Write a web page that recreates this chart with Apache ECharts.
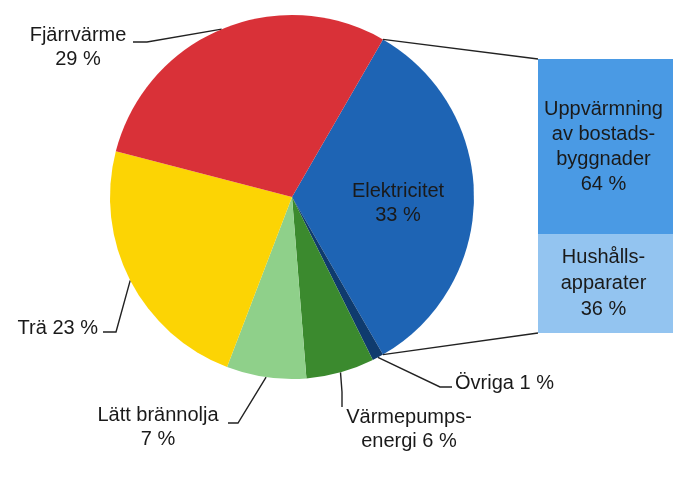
<!DOCTYPE html>
<html>
<head>
<meta charset="utf-8">
<script src="https://cdn.jsdelivr.net/npm/echarts@6/dist/echarts.min.js"></script>
<style>
html,body{margin:0;padding:0;background:#fff;}
#chart{width:673px;height:484px;}
</style>
</head>
<body>
<div id="chart"></div>
<script>
// ---- data ----
var pieNames = ['Elektricitet', 'Övriga', 'Värmepumpsenergi', 'Lätt brännolja', 'Trä', 'Fjärrvärme'];
var pieValues = [33, 1, 6, 7, 23, 29];
var pieLabelTexts = ['Elektricitet\n33 %', 'Övriga 1 %', 'Värmepumps-\nenergi 6 %', 'Lätt brännolja\n7 %', 'Trä 23 %', 'Fjärrvärme\n29 %'];
var barNames = ['Hushållsapparater', 'Uppvärmning av bostadsbyggnader'];
var barValues = [36, 64];
var barLabelTexts = ['Hushålls-\napparater\n36 %', 'Uppvärmning\nav bostads-\nbyggnader\n64 %'];

// ---- styling / layout ----
var pieColors = ['#1e64b4', '#0f3b6e', '#3b8a2e', '#8fd08a', '#fcd404', '#d93138'];
var barColors = ['#93c4f0', '#4a9ae4'];
var FONT = '"Liberation Sans", Arial, sans-serif';
var TXT = '#1a1a1a';
var LINE = '#222';
var pieCenter = [292, 197];
var pieRadius = 182;
var grid = {left: 538, top: 59, right: 0, bottom: 151};

// label placements (x, y, align) and leader elbow/end points, by data index
var labelPlace = [
  {x: 398, y: 203, align: 'center'},
  {x: 455, y: 383, align: 'left', line: [[440, 387], [452, 387]]},
  {x: 409, y: 429, align: 'center', line: [[342, 392], [342, 407]]},
  {x: 158, y: 427, align: 'center', line: [[238, 423], [228, 423]]},
  {x: 98, y: 328, align: 'right', line: [[116, 332], [103, 332]]},
  {x: 78, y: 47, align: 'center', line: [[147, 42], [133, 42]]}
];

var total = pieValues.reduce(function (a, b) { return a + b; }, 0);
var startAngle = 360 * pieValues[0] / total / 2;

var pieData = pieNames.map(function (n, i) {
  var item = {name: n, value: pieValues[i], itemStyle: {color: pieColors[i]}};
  if (i === 0) {
    item.label = {position: 'inside'};
    item.labelLine = {show: false};
  }
  return item;
});

var chart = echarts.init(document.getElementById('chart'), null, {renderer: 'canvas'});
var option = {
  backgroundColor: '#ffffff',
  animation: false,
  grid: grid,
  xAxis: {type: 'category', data: ['x'], show: false},
  yAxis: {type: 'value', min: 0, max: 100, show: false},
  series: [
    {
      type: 'pie',
      center: pieCenter,
      radius: pieRadius,
      startAngle: startAngle,
      clockwise: true,
      avoidLabelOverlap: false,
      data: pieData,
      itemStyle: {borderWidth: 0},
      label: {
        show: true,
        position: 'outside',
        formatter: function (p) { return pieLabelTexts[p.dataIndex]; },
        fontFamily: FONT,
        fontSize: 20,
        lineHeight: 24,
        color: TXT
      },
      labelLine: {show: true, length: 10, length2: 10, lineStyle: {color: LINE, width: 1.4}},
      labelLayout: function (params) {
        var pl = labelPlace[params.dataIndex];
        var out = {x: pl.x, y: pl.y, align: pl.align, verticalAlign: 'middle'};
        if (pl.line && params.labelLinePoints) {
          out.labelLinePoints = [params.labelLinePoints[0], pl.line[0], pl.line[1]];
        }
        return out;
      }
    },
    {
      type: 'bar',
      name: barNames[0],
      stack: 'total',
      barWidth: '100%',
      data: [barValues[0]],
      itemStyle: {color: barColors[0]},
      label: {show: true, position: 'inside', offset: [-2, 0], formatter: barLabelTexts[0],
        fontFamily: FONT, fontSize: 20, lineHeight: 26, color: TXT}
    },
    {
      type: 'bar',
      name: barNames[1],
      stack: 'total',
      barWidth: '100%',
      data: [barValues[1]],
      itemStyle: {color: barColors[1]},
      label: {show: true, position: 'inside', offset: [-2, 0], formatter: barLabelTexts[1],
        fontFamily: FONT, fontSize: 20, lineHeight: 25, color: TXT}
    }
  ]
};
chart.setOption(option);

// connector lines from the Elektricitet slice edges to the bar corners
var a1 = startAngle * Math.PI / 180;
var a2 = (startAngle - 360 * pieValues[0] / total) * Math.PI / 180;
var p1 = [pieCenter[0] + pieRadius * Math.cos(a1), pieCenter[1] - pieRadius * Math.sin(a1)];
var p2 = [pieCenter[0] + pieRadius * Math.cos(a2), pieCenter[1] - pieRadius * Math.sin(a2)];
var yTop = chart.convertToPixel({yAxisIndex: 0}, barValues[0] + barValues[1]);
var yBot = chart.convertToPixel({yAxisIndex: 0}, 0);
chart.setOption({
  graphic: [
    {type: 'line', shape: {x1: p1[0], y1: p1[1], x2: grid.left, y2: yTop}, style: {stroke: LINE, lineWidth: 1.4}, z: 10},
    {type: 'line', shape: {x1: p2[0], y1: p2[1], x2: grid.left, y2: yBot}, style: {stroke: LINE, lineWidth: 1.4}, z: 10}
  ]
});
</script>
</body>
</html>
